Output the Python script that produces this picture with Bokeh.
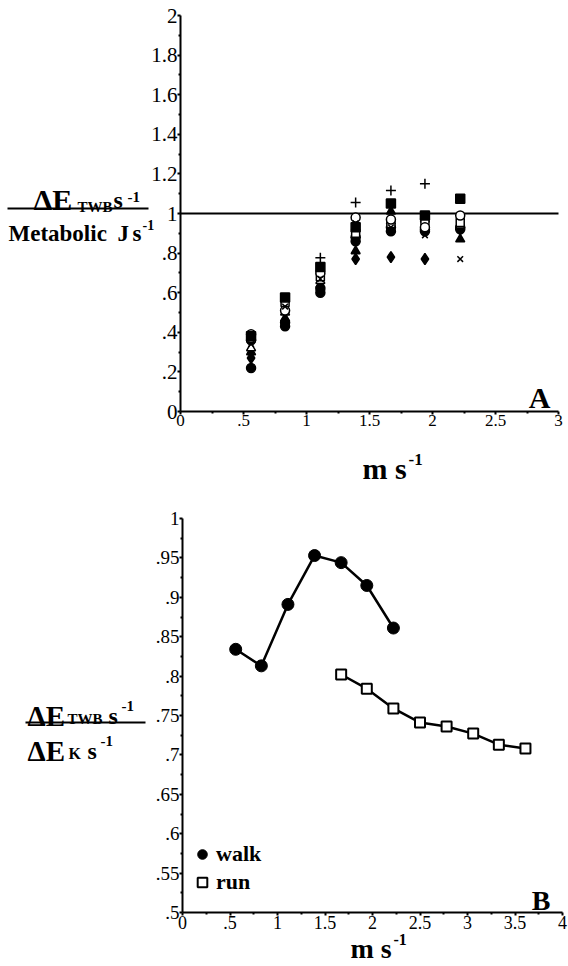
from bokeh.plotting import figure
from bokeh.layouts import column
from bokeh.models import (Range1d, FixedTicker, Label, BoxAnnotation,
                          Legend, LegendItem)
from bokeh.embed import file_html
from bokeh.resources import INLINE

NAN = float("nan")
FONT = "Liberation Serif"

# ---------------- Panel A data ----------------
speeds_a = [0.56, 0.83, 1.11, 1.39, 1.67, 1.94, 2.22]
plus_s = [NAN, NAN, 0.777, 1.055, 1.116, 1.15, NAN]
fsquare_s = [0.38, 0.576, 0.73, 0.93, 1.05, 0.99, 1.075]
ocircle_s = [0.39, 0.51, 0.70, 0.98, 0.97, 0.93, 0.99]
osquare_s = [0.37, 0.55, 0.68, 0.90, 0.95, 0.96, 0.955]
fcircle1_s = [0.22, 0.43, 0.60, 0.86, 0.91, 0.91, 0.93]
fcircle2_s = [0.36, 0.45, 0.62, 0.88, 0.93, 0.92, 0.92]
ftriangle_s = [0.30, 0.47, 0.64, 0.81, 1.01, 0.985, 0.87]
otriangle_s = [0.32, 0.50, 0.66, 0.89, 0.96, 0.97, 0.94]
fdiamond_s = [0.27, 0.44, 0.61, 0.77, 0.78, 0.77, 0.92]
x_s = [0.34, 0.53, 0.67, 0.95, 0.93, 0.89, 0.77]
ref_level = [1.0]

a_xticks = [0, 0.5, 1, 1.5, 2, 2.5, 3]
a_xlabels = ["0", ".5", "1", "1.5", "2", "2.5", "3"]
a_yticks = [0, 0.2, 0.4, 0.6, 0.8, 1, 1.2, 1.4, 1.6, 1.8, 2]
a_ylabels = ["0", ".2", ".4", ".6", ".8", "1", "1.2", "1.4", "1.6", "1.8", "2"]

# ---------------- Panel B data ----------------
walk_speed = [0.56, 0.83, 1.11, 1.39, 1.67, 1.94, 2.22]
walk_ratio = [0.834, 0.813, 0.891, 0.953, 0.944, 0.915, 0.861]
run_speed = [1.67, 1.94, 2.22, 2.50, 2.78, 3.06, 3.33, 3.61]
run_ratio = [0.802, 0.784, 0.759, 0.741, 0.736, 0.727, 0.713, 0.708]

b_xticks = [0, 0.5, 1, 1.5, 2, 2.5, 3, 3.5, 4]
b_xlabels = ["0", ".5", "1", "1.5", "2", "2.5", "3", "3.5", "4"]
b_yticks = [0.5, 0.55, 0.6, 0.65, 0.7, 0.75, 0.8, 0.85, 0.9, 0.95, 1]
b_ylabels = [".5", ".55", ".6", ".65", ".7", ".75", ".8", ".85", ".9", ".95", "1"]


def minor_between(ticks):
    return [(a + b) / 2 for a, b in zip(ticks[:-1], ticks[1:])]


def style(p, xt, xl, yt, yl, xfs, yfs):
    p.outline_line_color = None
    p.xgrid.visible = False
    p.ygrid.visible = False
    p.background_fill_color = "white"
    p.border_fill_color = "white"
    p.xaxis.ticker = FixedTicker(ticks=xt, minor_ticks=minor_between(xt))
    p.yaxis.ticker = FixedTicker(ticks=yt, minor_ticks=minor_between(yt))
    p.xaxis.major_label_overrides = {t: l for t, l in zip(xt, xl)}
    p.yaxis.major_label_overrides = {t: l for t, l in zip(yt, yl)}
    p.xaxis.fixed_location = yt[0]
    p.yaxis.fixed_location = xt[0]
    p.xaxis.bounds = (xt[0], xt[-1])
    p.yaxis.bounds = (yt[0], yt[-1])
    p.xaxis.major_label_text_font_size = xfs
    p.yaxis.major_label_text_font_size = yfs
    for ax in (p.xaxis, p.yaxis):
        ax.axis_line_width = 2
        ax.axis_line_color = "black"
        ax.major_tick_line_width = 2
        ax.major_tick_line_color = "black"
        ax.major_tick_out = 3
        ax.major_tick_in = 0
        ax.minor_tick_line_width = 2
        ax.minor_tick_line_color = "black"
        ax.minor_tick_out = 2
        ax.minor_tick_in = 0
        ax.major_label_text_font = FONT
        ax.major_label_text_color = "black"
        ax.major_label_standoff = 0


class Canvas:
    """Place texts relative to the axes origin, in screen pixels."""
    def __init__(self, p, ox, oy):
        self.p, self.ox, self.oy = p, ox, oy

    def lab(self, dx, dy, text, size, bold=True, align="left"):
        self.p.add_layout(Label(x=self.ox + dx, y=self.oy + dy,
                                x_units="screen", y_units="screen", text=text,
                                text_font=FONT, text_font_size=f"{size}px",
                                text_font_style="bold" if bold else "normal",
                                text_color="black", text_align=align,
                                text_baseline="alphabetic"))

    def bar(self, left, right, y):
        self.p.add_layout(BoxAnnotation(
            left=self.ox + left, right=self.ox + right,
            bottom=self.oy + y - 1, top=self.oy + y + 1,
            left_units="screen", right_units="screen",
            bottom_units="screen", top_units="screen",
            fill_color="black", fill_alpha=1.0, line_color=None))


def make_fig(w, h, ox, oy, sx, sy, x0, y0):
    # frame fills the whole figure; axes sit at (x0, y0) placed at pixel (ox, oy)
    return figure(width=w, height=h,
                  x_range=Range1d(x0 - ox / sx, x0 + (w - ox) / sx),
                  y_range=Range1d(y0 - oy / sy, y0 + (h - oy) / sy),
                  output_backend="svg", toolbar_location=None,
                  min_border_left=0, min_border_right=0, min_border_top=0,
                  min_border_bottom=0)


# ---------------- Panel A ----------------
A_W, A_H = 568, 496
A_OX, A_OY = 180, 85          # axes origin, px from frame left / bottom
A_SX, A_SY = 126, 198         # px per data unit
pA = make_fig(A_W, A_H, A_OX, A_OY, A_SX, A_SY, a_xticks[0], a_yticks[0])
style(pA, a_xticks, a_xlabels, a_yticks, a_ylabels, "17px", "21px")
pA.segment(x0=[a_xticks[0]], x1=[a_xticks[-1]], y0=ref_level, y1=ref_level,
           line_color="black", line_width=2)

series_a = [
    (fcircle1_s, "circle", "black", 9),
    (fcircle2_s, "circle", "black", 9),
    (fdiamond_s, "diamond", "black", 11),
    (ftriangle_s, "triangle", "black", 9),
    (otriangle_s, "triangle", "white", 9),
    (osquare_s, "square", "white", 8),
    (ocircle_s, "circle", "white", 9),
    (fsquare_s, "square", "black", 9),
    (x_s, "x", "black", 8),
    (plus_s, "cross", "black", 10),
]
for ys, marker, fill, size in series_a:
    pA.scatter(speeds_a, ys, marker=marker, size=size, line_color="black",
               line_width=1.5, fill_color=fill)

ca = Canvas(pA, A_OX, A_OY)
ca.lab(-147, 212, "ΔE", 30)
ca.lab(-103, 205, "TWB", 15)
ca.lab(-67, 212, "s", 24)
ca.lab(-53, 215, "-1", 15)
ca.bar(-173, -32, 203)
ca.lab(-172, 178, "Metabolic", 23)
ca.lab(-63, 178, "J", 23)
ca.lab(-48, 178, "s", 23)
ca.lab(-38, 187, "-1", 14)
ca.lab(182, -57, "m s", 30)
ca.lab(228, -48, "-1", 17)
ca.lab(370, 14, "A", 30, align="right")

# ---------------- Panel B ----------------
B_W, B_H = 568, 470
B_OX, B_OY = 182, 54
B_SX, B_SY = 95, 788
pB = make_fig(B_W, B_H, B_OX, B_OY, B_SX, B_SY, b_xticks[0], b_yticks[0])
style(pB, b_xticks, b_xlabels, b_yticks, b_ylabels, "18px", "19px")

pB.line(walk_speed, walk_ratio, line_color="black", line_width=2.5)
rw = pB.scatter(walk_speed, walk_ratio, marker="circle", size=12,
                fill_color="black", line_color="black")
pB.line(run_speed, run_ratio, line_color="black", line_width=2.5)
rr = pB.scatter(run_speed, run_ratio, marker="square", size=10,
                fill_color="white", line_color="black", line_width=2)

legend = Legend(items=[LegendItem(label="walk", renderers=[rw]),
                       LegendItem(label="run", renderers=[rr])],
                location=(B_OX + 8, B_OY + 17), border_line_color=None,
                background_fill_alpha=0, padding=0, margin=0, spacing=2,
                glyph_width=24, glyph_height=24, label_standoff=2,
                label_text_font=FONT, label_text_font_style="bold",
                label_text_color="black",
                label_text_font_size="22px", label_height=24)
pB.add_layout(legend)

cb = Canvas(pB, B_OX, B_OY)
cb.lab(-155, 197, "ΔE", 29)
cb.lab(-115, 194, "TWB", 15)
cb.lab(-74, 197, "s", 24)
cb.lab(-61, 207, "-1", 15)
cb.bar(-157, -37, 190)
cb.lab(-155, 162, "ΔE", 29)
cb.lab(-114, 159, "K", 16)
cb.lab(-95, 162, "s", 24)
cb.lab(-82, 172, "-1", 15)
cb.lab(168, -36, "m s", 28)
cb.lab(211, -27, "-1", 16)
cb.lab(368, 12, "B", 28, align="right")

layout = column(pA, pB, spacing=0)
open("out.html", "w").write(file_html(layout, INLINE))
